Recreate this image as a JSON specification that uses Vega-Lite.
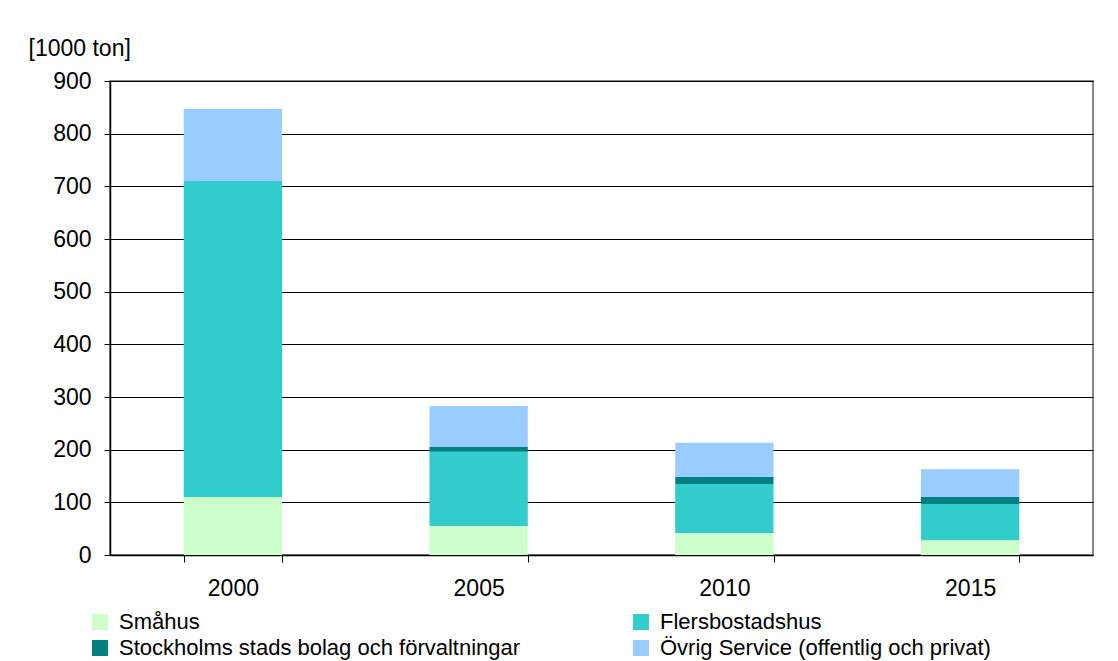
{
  "$schema": "https://vega.github.io/schema/vega-lite/v6.json",
  "autosize": {"type": "none"},
  "padding": {"left": 110, "top": 81, "right": 25, "bottom": 106},
  "width": 983,
  "height": 474,
  "background": "white",
  "data": {
    "values": [
      {"year": "2000", "kategori": "Småhus", "ordning": 1, "varde": 110},
      {"year": "2000", "kategori": "Flersbostadshus", "ordning": 2, "varde": 600},
      {"year": "2000", "kategori": "Stockholms stads bolag och förvaltningar", "ordning": 3, "varde": 0},
      {"year": "2000", "kategori": "Övrig Service (offentlig och privat)", "ordning": 4, "varde": 137},
      {"year": "2005", "kategori": "Småhus", "ordning": 1, "varde": 55},
      {"year": "2005", "kategori": "Flersbostadshus", "ordning": 2, "varde": 141},
      {"year": "2005", "kategori": "Stockholms stads bolag och förvaltningar", "ordning": 3, "varde": 9},
      {"year": "2005", "kategori": "Övrig Service (offentlig och privat)", "ordning": 4, "varde": 78},
      {"year": "2010", "kategori": "Småhus", "ordning": 1, "varde": 42},
      {"year": "2010", "kategori": "Flersbostadshus", "ordning": 2, "varde": 93},
      {"year": "2010", "kategori": "Stockholms stads bolag och förvaltningar", "ordning": 3, "varde": 13},
      {"year": "2010", "kategori": "Övrig Service (offentlig och privat)", "ordning": 4, "varde": 65},
      {"year": "2015", "kategori": "Småhus", "ordning": 1, "varde": 28},
      {"year": "2015", "kategori": "Flersbostadshus", "ordning": 2, "varde": 69},
      {"year": "2015", "kategori": "Stockholms stads bolag och förvaltningar", "ordning": 3, "varde": 13},
      {"year": "2015", "kategori": "Övrig Service (offentlig och privat)", "ordning": 4, "varde": 53}
    ]
  },
  "mark": {"type": "bar"},
  "encoding": {
    "x": {
      "field": "year",
      "type": "ordinal",
      "scale": {"paddingInner": 0.6, "paddingOuter": 0.3},
      "axis": {
        "title": null,
        "labelAngle": 0,
        "labelFontSize": 23,
        "labelPadding": 15,
        "tickBand": "extent",
        "tickSize": 7,
        "tickColor": "black",
        "domainColor": "black",
        "domainWidth": 1.5,
        "grid": false
      }
    },
    "y": {
      "field": "varde",
      "type": "quantitative",
      "stack": "zero",
      "scale": {"domain": [0, 900], "nice": false},
      "axis": {
        "title": "[1000 ton]",
        "values": [0, 100, 200, 300, 400, 500, 600, 700, 800, 900],
        "titleAngle": 0,
        "titleAlign": "left",
        "titleBaseline": "alphabetic",
        "titleX": -82,
        "titleY": -26,
        "titleFontSize": 23,
        "titleFontWeight": "normal",
        "labelFontSize": 23,
        "labelPadding": 13,
        "tickSize": 6,
        "tickColor": "black",
        "domainColor": "black",
        "domainWidth": 1.5,
        "grid": true,
        "gridColor": "black",
        "gridWidth": 1.2
      }
    },
    "color": {
      "field": "kategori",
      "type": "nominal",
      "scale": {
        "domain": ["Småhus", "Flersbostadshus", "Stockholms stads bolag och förvaltningar", "Övrig Service (offentlig och privat)"],
        "range": ["#CCFFCC", "#33CCCC", "#008080", "#99CCFF"]
      },
      "legend": {
        "title": null,
        "orient": "none",
        "direction": "horizontal",
        "legendX": -21,
        "legendY": 530,
        "columns": 2,
        "columnPadding": 109,
        "rowPadding": 4,
        "symbolType": "square",
        "symbolSize": 256,
        "symbolStrokeWidth": 0,
        "labelFontSize": 22,
        "labelOffset": 8,
        "labelLimit": 600,
        "labelColor": "black"
      }
    },
    "order": {"field": "ordning", "type": "quantitative", "sort": "ascending"}
  },
  "config": {
    "font": "Liberation Sans",
    "view": {"stroke": "#888888", "strokeWidth": 2},
    "axis": {"labelColor": "black", "titleColor": "black"}
  }
}
